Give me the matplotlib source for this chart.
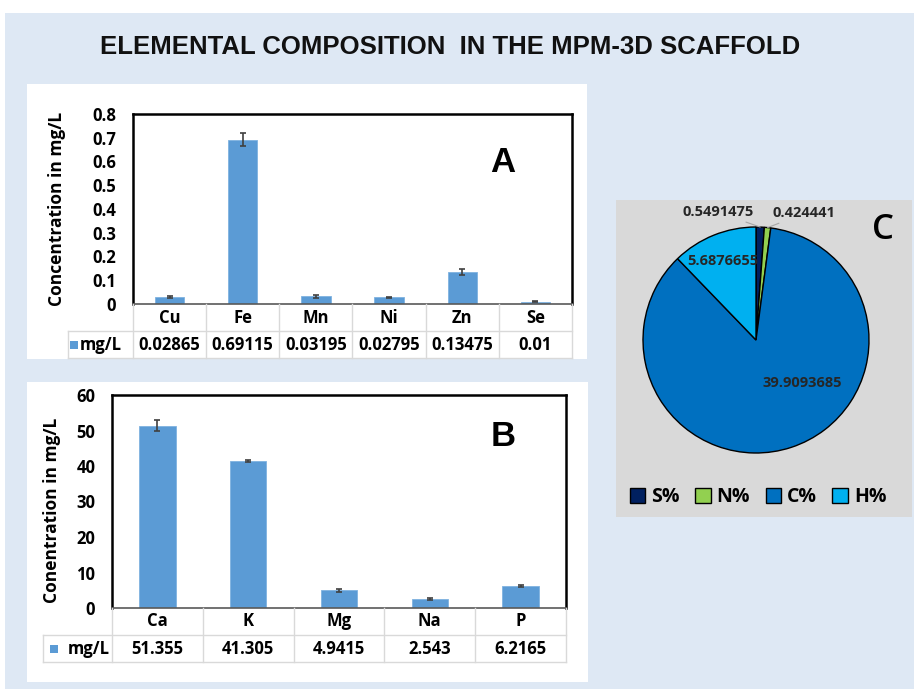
import matplotlib
matplotlib.use('Agg')
import matplotlib.pyplot as plt
import matplotlib.transforms as mtransforms
from matplotlib.patches import Rectangle, Patch
from matplotlib.lines import Line2D
from matplotlib.ticker import FormatStrFormatter
import numpy as np

plt.rcParams['font.family'] = ['Open Sans', 'DejaVu Sans']

# ---------------- data ----------------
title = 'ELEMENTAL COMPOSITION  IN THE MPM-3D SCAFFOLD'

a_elements = ['Cu', 'Fe', 'Mn', 'Ni', 'Zn', 'Se']
a_values = [0.02865, 0.69115, 0.03195, 0.02795, 0.13475, 0.01]
a_errors = [0.003, 0.027, 0.005, 0.003, 0.013, 0.002]
a_labels = ['0.02865', '0.69115', '0.03195', '0.02795', '0.13475', '0.01']
a_ticks = [0, 0.1, 0.2, 0.3, 0.4, 0.5, 0.6, 0.7, 0.8]

b_elements = ['Ca', 'K', 'Mg', 'Na', 'P']
b_values = [51.355, 41.305, 4.9415, 2.543, 6.2165]
b_errors = [1.5, 0.3, 0.3, 0.2, 0.4]
b_labels = ['51.355', '41.305', '4.9415', '2.543', '6.2165']
b_ticks = [0, 10, 20, 30, 40, 50, 60]

pie_names = ['S%', 'N%', 'C%', 'H%']
pie_values = [0.5491475, 0.424441, 39.9093685, 5.6876655]
pie_labels = ['0.5491475', '0.424441', '39.9093685', '5.6876655']

# ---------------- styling ----------------
W, H = 914, 689
BAR = '#5B9BD5'
BG = '#DEE8F4'
GRID = '#D9D9D9'
pie_colors = ['#002060', '#92D050', '#0070C0', '#00B0F0']

fig = plt.figure(figsize=(W / 100, H / 100), dpi=100)
fig.patch.set_facecolor('white')


def fx(x):
    return x / W


def fy(y):
    return 1 - y / H


def rect(x0, y0, x1, y1):
    return [fx(x0), fy(y1), (x1 - x0) / W, (y1 - y0) / H]


def box(x0, y0, x1, y1, color, z=-5):
    fig.add_artist(Rectangle((fx(x0), fy(y1)), (x1 - x0) / W, (y1 - y0) / H,
                             transform=fig.transFigure, facecolor=color,
                             edgecolor='none', zorder=z))


# backgrounds
box(5, 13, W, H, BG, z=-10)
box(27, 84, 587, 359, 'white')
box(27, 382, 588, 682, 'white')
box(616, 200, 912, 517, '#D9D9D9')

fig.text(fx(450), fy(47), title, ha='center', va='center',
         fontsize=18.5, fontweight='bold', family='Liberation Sans', color='#111111')

TXT = 12


def bar_panel(axrect, names, values, errors, labels, ticks, ylabel, letter,
              letter_pos, ylab_pos, table, legend_cell):
    ax = fig.add_axes(rect(*axrect))
    x = np.arange(len(names))
    ax.bar(x, values, width=0.4, color=BAR, edgecolor='#7FB2E0', linewidth=0.6, zorder=2)
    ax.errorbar(x, values, yerr=errors, fmt='none', ecolor='#404040',
                elinewidth=1.2, capsize=2.5, capthick=1.2, zorder=3)
    ax.set_xlim(-0.5, len(names) - 0.5)
    ax.set_ylim(ticks[0], ticks[-1])
    ax.set_yticks(ticks)
    ax.yaxis.set_major_formatter(FormatStrFormatter('%g'))
    ax.tick_params(axis='y', length=0, pad=12, labelsize=TXT)
    ax.set_xticks([])
    for lab in ax.get_yticklabels():
        lab.set_fontweight('bold')
    for s in ax.spines.values():
        s.set_color('black')
        s.set_linewidth(1.8)
    ax.spines['bottom'].set_color('#595959')
    ax.spines['bottom'].set_linewidth(1.2)
    ax.set_ylabel(ylabel, fontsize=12.5, fontweight='bold')
    ax.yaxis.set_label_coords(*ylab_pos)
    ax.text(letter_pos[0], letter_pos[1], letter, transform=ax.transAxes,
            fontsize=25, fontweight='bold', ha='center', va='center',
            family='Liberation Sans')

    # data table under the chart
    leg_left, y_top, y_mid, y_bot = table
    tr = mtransforms.blended_transform_factory(ax.transData, fig.transFigure)
    n = len(names)
    for i in range(n + 1):
        xb = i - 0.5
        fig.add_artist(Line2D([xb, xb], [fy(y_top), fy(y_bot)], transform=tr,
                              color=GRID, lw=1, zorder=1))
    x_right = fx(axrect[2])
    for yy in (y_mid, y_bot):
        fig.add_artist(Line2D([fx(leg_left), x_right], [fy(yy), fy(yy)],
                              transform=fig.transFigure, color=GRID, lw=1, zorder=1))
    fig.add_artist(Line2D([fx(leg_left), fx(leg_left)], [fy(y_mid), fy(y_bot)],
                          transform=fig.transFigure, color=GRID, lw=1, zorder=1))
    for i in range(n):
        fig.text(i, fy((y_top + y_mid) / 2), names[i], transform=tr,
                 ha='center', va='center', fontsize=TXT, fontweight='bold')
        fig.text(i, fy((y_mid + y_bot) / 2), labels[i], transform=tr,
                 ha='center', va='center', fontsize=TXT, fontweight='bold')
    sq_x, txt_x = legend_cell
    yc = (y_mid + y_bot) / 2
    box(sq_x, yc - 4, sq_x + 8, yc + 4, BAR, z=2)
    fig.text(fx(txt_x), fy(yc), 'mg/L', ha='left', va='center',
             fontsize=TXT, fontweight='bold')
    return ax


bar_panel((133, 114, 572, 304), a_elements, a_values, a_errors, a_labels, a_ticks,
          'Concentration in mg/L', 'A', (0.843, 0.747), (-0.152, 0.5),
          (68, 304, 331, 358), (70, 80))

bar_panel((112, 395, 566, 608), b_elements, b_values, b_errors, b_labels, b_ticks,
          'Conentration in mg/L', 'B', (0.861, 0.803), (-0.112, 0.46),
          (43, 608, 635, 662), (50, 68))

# ---------------- pie ----------------
R = 113
cx, cy = 756, 340
pax = fig.add_axes(rect(cx - R, cy - R, cx + R, cy + R))
pax.set_facecolor('none')
wedges, _ = pax.pie(pie_values, colors=pie_colors, startangle=90, counterclock=False,
                    radius=1, wedgeprops=dict(edgecolor='black', linewidth=1.0))
pax.set_xlim(-1, 1)
pax.set_ylim(-1, 1)
pax.set_aspect('equal')
pax.axis('off')

lab_kw = dict(fontsize=10.5, fontweight='bold', color='#262626')
# inside labels (H, C), polar offsets (angle deg, radius)
inside = {3: (113, 0.76), 2: (-42.5, 0.56)}
for i, (ang, r) in inside.items():
    pax.text(r * np.cos(np.radians(ang)), r * np.sin(np.radians(ang)), pie_labels[i],
             ha='center', va='center', **lab_kw)
# outside labels (S, N) with leader lines
outside = {0: ((-0.02, 1.13), 'right'), 1: ((0.15, 1.12), 'left')}
for i, (pos, ha) in outside.items():
    w = wedges[i]
    mid = np.radians((w.theta1 + w.theta2) / 2)
    pax.annotate(pie_labels[i], xy=(np.cos(mid), np.sin(mid)), xytext=pos,
                 ha=ha, va='center', annotation_clip=False,
                 arrowprops=dict(arrowstyle='-', color='#A6A6A6', lw=0.8,
                                 shrinkA=0, shrinkB=0), **lab_kw)

pax.text(1.12, 0.97, 'C', fontsize=25, ha='center', va='center',
         fontweight='semibold', color='black')

handles = [Patch(facecolor=c, edgecolor='black', linewidth=1.0, label=n)
           for c, n in zip(pie_colors, pie_names)]
fig.legend(handles=handles, loc='center', bbox_to_anchor=(fx(758), fy(497)),
           ncol=4, frameon=False, handlelength=0.8, handleheight=0.8,
           handletextpad=0.3, columnspacing=0.8,
           prop=dict(size=14, weight='bold', family='Open Sans'))

fig.savefig('out.png', dpi=100)
